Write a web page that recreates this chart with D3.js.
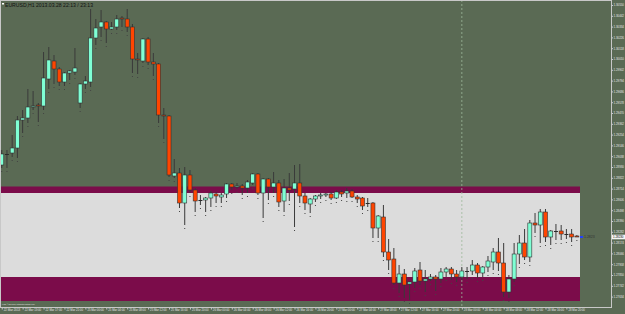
<!DOCTYPE html>
<meta charset="utf-8">
<style>
body { margin: 0; background: #5a6a54; }
svg { display: block; font-family: 'Liberation Sans', sans-serif; }
.axis path { stroke: #c8c8c8; }
.axis line { stroke: #c8c8c8; }
.axis text { fill: #e6e6e6; font-size: 3px; }
</style>
<body>
<script src="https://d3js.org/d3.v7.min.js"></script>
<script>

// EURUSD H1 candles, bar 0 = 22 Mar 09:00 ... bar 110 = 28 Mar 22:00
var opens = [
  1.2895, 1.2906, 1.2907, 1.2912, 1.2940, 1.2942, 1.2953, 1.2955, 1.2954, 1.2981,
  1.2999, 1.2991, 1.2978, 1.2987, 1.2988, 1.2957, 1.2976, 1.2978, 1.3022, 1.3033,
  1.3038, 1.3031, 1.3033, 1.3042, 1.3041, 1.3033, 1.3001, 1.2999, 1.3021, 1.2998,
  1.2996, 1.2945, 1.2944, 1.2884, 1.2887, 1.2857, 1.2885, 1.2870, 1.2860, 1.2860,
  1.2862, 1.2866, 1.2863, 1.2866, 1.2876, 1.2873, 1.2874, 1.2872, 1.2877, 1.2886,
  1.2867, 1.2881, 1.2873, 1.2877, 1.2859, 1.2872, 1.2871, 1.2877, 1.2864, 1.2856,
  1.2861, 1.2864, 1.2865, 1.2866, 1.2862, 1.2868, 1.2867, 1.2869, 1.2863, 1.2862,
  1.2857, 1.2857, 1.2832, 1.2843, 1.2808, 1.2801, 1.2777, 1.2786, 1.2776, 1.2778,
  1.2790, 1.2779, 1.2781, 1.2783, 1.2781, 1.2788, 1.2791, 1.2786, 1.2783, 1.2789,
  1.2789, 1.2795, 1.2787, 1.2793, 1.2798, 1.2808, 1.2797, 1.2768, 1.2781, 1.2806,
  1.2817, 1.2803, 1.2837, 1.2835, 1.2848, 1.2823, 1.2829, 1.2829, 1.2826, 1.2826,
  1.2824
];
var highs = [
  1.2910, 1.2910, 1.2925, 1.2944, 1.2950, 1.2971, 1.2969, 1.2957, 1.3008, 1.3013,
  1.3005, 1.2993, 1.2988, 1.2990, 1.3012, 1.2977, 1.2984, 1.3051, 1.3041, 1.3050,
  1.3039, 1.3038, 1.3045, 1.3044, 1.3051, 1.3036, 1.3007, 1.3022, 1.3023, 1.3007,
  1.2997, 1.2952, 1.2945, 1.2901, 1.2892, 1.2893, 1.2890, 1.2872, 1.2865, 1.2863,
  1.2869, 1.2868, 1.2867, 1.2877, 1.2877, 1.2877, 1.2876, 1.2880, 1.2887, 1.2887,
  1.2882, 1.2882, 1.2888, 1.2880, 1.2881, 1.2887, 1.2895, 1.2896, 1.2867, 1.2862,
  1.2865, 1.2867, 1.2867, 1.2868, 1.2870, 1.2870, 1.2872, 1.2871, 1.2865, 1.2863,
  1.2862, 1.2858, 1.2845, 1.2855, 1.2821, 1.2812, 1.2795, 1.2791, 1.2779, 1.2792,
  1.2798, 1.2790, 1.2786, 1.2785, 1.2792, 1.2793, 1.2793, 1.2790, 1.2793, 1.2793,
  1.2800, 1.2797, 1.2794, 1.2804, 1.2812, 1.2822, 1.2817, 1.2785, 1.2817, 1.2825,
  1.2831, 1.2840, 1.2847, 1.2851, 1.2851, 1.2830, 1.2836, 1.2835, 1.2831, 1.2831,
  1.2825
];
var lows = [
  1.2892, 1.2892, 1.2903, 1.2902, 1.2927, 1.2937, 1.2950, 1.2938, 1.2950, 1.2971,
  1.2976, 1.2974, 1.2974, 1.2980, 1.2985, 1.2952, 1.2971, 1.2973, 1.3015, 1.3023,
  1.3017, 1.3030, 1.3030, 1.3033, 1.3028, 1.2987, 1.2986, 1.2997, 1.2995, 1.2984,
  1.2937, 1.2921, 1.2883, 1.2882, 1.2852, 1.2835, 1.2867, 1.2848, 1.2855, 1.2848,
  1.2853, 1.2857, 1.2857, 1.2862, 1.2870, 1.2871, 1.2865, 1.2867, 1.2875, 1.2865,
  1.2842, 1.2860, 1.2867, 1.2853, 1.2848, 1.2859, 1.2833, 1.2857, 1.2850, 1.2847,
  1.2858, 1.2861, 1.2863, 1.2860, 1.2861, 1.2863, 1.2862, 1.2862, 1.2857, 1.2850,
  1.2853, 1.2822, 1.2822, 1.2803, 1.2790, 1.2775, 1.2767, 1.2762, 1.2760, 1.2772,
  1.2775, 1.2768, 1.2779, 1.2769, 1.2777, 1.2783, 1.2780, 1.2778, 1.2780, 1.2781,
  1.2785, 1.2782, 1.2783, 1.2788, 1.2790, 1.2789, 1.2763, 1.2762, 1.2778, 1.2796,
  1.2800, 1.2798, 1.2827, 1.2817, 1.2818, 1.2815, 1.2820, 1.2820, 1.2821, 1.2818,
  1.2823
];
var closes = [
  1.2906, 1.2906, 1.2912, 1.2940, 1.2942, 1.2953, 1.2954, 1.2954, 1.2982, 1.3000,
  1.2991, 1.2978, 1.2987, 1.2989, 1.2992, 1.2976, 1.2979, 1.3022, 1.3032, 1.3038,
  1.3031, 1.3033, 1.3041, 1.3041, 1.3033, 1.3001, 1.3000, 1.3021, 1.2998, 1.2996,
  1.2945, 1.2944, 1.2885, 1.2887, 1.2857, 1.2885, 1.2870, 1.2859, 1.2860, 1.2862,
  1.2867, 1.2864, 1.2865, 1.2876, 1.2873, 1.2874, 1.2872, 1.2878, 1.2886, 1.2867,
  1.2881, 1.2873, 1.2877, 1.2858, 1.2872, 1.2870, 1.2877, 1.2864, 1.2857, 1.2861,
  1.2864, 1.2865, 1.2866, 1.2862, 1.2868, 1.2866, 1.2869, 1.2863, 1.2861, 1.2854,
  1.2857, 1.2832, 1.2844, 1.2808, 1.2800, 1.2777, 1.2786, 1.2775, 1.2778, 1.2789,
  1.2779, 1.2781, 1.2783, 1.2781, 1.2788, 1.2791, 1.2786, 1.2783, 1.2789, 1.2789,
  1.2795, 1.2787, 1.2793, 1.2799, 1.2808, 1.2797, 1.2768, 1.2781, 1.2806, 1.2817,
  1.2803, 1.2837, 1.2835, 1.2848, 1.2823, 1.2829, 1.2829, 1.2826, 1.2826, 1.2823,
  1.2823
];

// price scale labels
var priceTicks = [
  1.30550, 1.30442, 1.30334, 1.30226, 1.30118, 1.30010, 1.29902, 1.29794, 1.29686, 1.29578,
  1.29470, 1.29362, 1.29254, 1.29146, 1.29038, 1.28930, 1.28822, 1.28714, 1.28606, 1.28498,
  1.28390, 1.28282, 1.28174, 1.28066, 1.27958, 1.27850, 1.27742, 1.27634
];

// time scale labels (every 4th bar)
var timeBars = [0, 4, 8, 12, 16, 20, 24, 28, 32, 36, 40, 44, 48, 52, 56, 60, 64, 68, 72, 76, 80, 84, 88, 92, 96, 100, 104, 108];
var timeLabels = [
  "22 Mar 2013", "22 Mar 13:00", "22 Mar 17:00", "22 Mar 21:00", "25 Mar 00:00", "25 Mar 04:00",
  "25 Mar 08:00", "25 Mar 12:00", "25 Mar 16:00", "25 Mar 20:00", "26 Mar 00:00", "26 Mar 04:00",
  "26 Mar 08:00", "26 Mar 12:00", "26 Mar 16:00", "26 Mar 20:00", "27 Mar 00:00", "27 Mar 04:00",
  "27 Mar 08:00", "27 Mar 12:00", "27 Mar 16:00", "27 Mar 20:00", "28 Mar 00:00", "28 Mar 04:00",
  "28 Mar 08:00", "28 Mar 12:00", "28 Mar 16:00", "28 Mar 20:00"
];

// the zone rectangles (outer band and inner box), price levels
var zoneOuter = [1.28735, 1.27590];
var zoneInner = [1.28670, 1.27830];
var separatorBar = 88;
var bidPrice = 1.2823;

var W = 625, H = 314;
var plotW = 611, plotH = 307;

var x = d3.scaleLinear().domain([-0.33, 110.6]).range([0, 580]);
var y = d3.scaleLinear().domain([1.3060, 1.2753]).range([0, plotH]);

var svg = d3.select("body").append("svg")
    .attr("width", W)
    .attr("height", H);

svg.append("clipPath").attr("id", "plot")
  .append("rect").attr("width", plotW).attr("height", plotH);

var plot = svg.append("g").attr("clip-path", "url(#plot)");

// zones
plot.append("rect")
    .attr("x", x(-0.33)).attr("width", x(110.6) - x(-0.33))
    .attr("y", y(zoneOuter[0])).attr("height", y(zoneOuter[1]) - y(zoneOuter[0]))
    .attr("fill", "#7b0c4a");
plot.append("rect")
    .attr("x", x(-0.33)).attr("width", x(110.6) - x(-0.33))
    .attr("y", y(zoneInner[0])).attr("height", y(zoneInner[1]) - y(zoneInner[0]))
    .attr("fill", "#dcdcdc");

// day separator
plot.append("line")
    .attr("x1", x(separatorBar)).attr("x2", x(separatorBar))
    .attr("y1", 0).attr("y2", plotH)
    .attr("stroke", "#9db89a").attr("stroke-width", 0.8)
    .attr("stroke-dasharray", "2,2");

var bars = d3.range(opens.length);

// small dots below each bar
plot.selectAll(".dot").data(bars).enter().append("rect")
    .attr("x", function(i) { return x(i) - 0.5; })
    .attr("y", function(i) { return y(lows[i]) + 3; })
    .attr("width", 1).attr("height", 1)
    .attr("fill", "#444");

// wicks
plot.selectAll(".wick").data(bars).enter().append("line")
    .attr("x1", function(i) { return x(i); })
    .attr("x2", function(i) { return x(i); })
    .attr("y1", function(i) { return y(highs[i]); })
    .attr("y2", function(i) { return y(lows[i]); })
    .attr("stroke", "#3a3a3a").attr("stroke-width", 1);

// bodies
plot.selectAll(".body").data(bars).enter().append("rect")
    .attr("x", function(i) { return x(i) - 2; })
    .attr("width", 4)
    .attr("y", function(i) { return y(Math.max(opens[i], closes[i])); })
    .attr("height", function(i) { return Math.max(1, Math.abs(y(opens[i]) - y(closes[i]))); })
    .attr("fill", function(i) {
      if (opens[i] === closes[i]) return "#2a2a2a";
      return closes[i] > opens[i] ? "#7fffd4" : "#ff4500";
    })
    .attr("stroke", "#333")
    .attr("stroke-width", function(i) { return opens[i] === closes[i] ? 0 : 0.6; });

// bid marker right of last bar
plot.append("rect")
    .attr("x", 580).attr("y", y(bidPrice) - 1)
    .attr("width", 3).attr("height", 2)
    .attr("fill", "#2040ff");
plot.append("text")
    .attr("x", 584).attr("y", y(bidPrice) + 1.2)
    .attr("font-size", "3.5px").attr("fill", "#333")
    .text("1.2823");

// frame
svg.append("rect")
    .attr("x", 0.5).attr("y", 0.5)
    .attr("width", plotW).attr("height", plotH)
    .attr("fill", "none").attr("stroke", "#c8c8c8").attr("stroke-width", 1);

// price axis
var yAxis = svg.append("g")
    .attr("class", "axis")
    .attr("transform", "translate(" + (plotW + 0.5) + ",0)")
    .call(d3.axisRight(y).tickValues(priceTicks).tickFormat(d3.format(".5f")).tickSize(1.5).tickPadding(0.5));
yAxis.select(".domain").remove();
yAxis.selectAll("text").attr("textLength", 10.5).attr("lengthAdjust", "spacingAndGlyphs");

// current price box
svg.append("rect")
    .attr("x", plotW + 1).attr("y", y(bidPrice) - 2.3)
    .attr("width", 13).attr("height", 4.6)
    .attr("fill", "#f4f4f4");
svg.append("text")
    .attr("x", plotW + 2).attr("y", y(bidPrice) + 1.1)
    .attr("font-size", "3px").attr("fill", "#000")
    .attr("textLength", 10.5).attr("lengthAdjust", "spacingAndGlyphs")
    .text(d3.format(".5f")(bidPrice));

// time axis
var xAxis = svg.append("g")
    .attr("class", "axis")
    .attr("transform", "translate(0," + (plotH + 0.5) + ")")
    .call(d3.axisBottom(x).tickValues(timeBars)
      .tickFormat(function(d, i) { return timeLabels[i]; })
      .tickSize(2).tickPadding(0));
xAxis.select(".domain").remove();
xAxis.selectAll("text")
    .attr("text-anchor", "start")
    .attr("dx", 1.5)
    .attr("dy", "0.5em")
    .attr("textLength", 16.5).attr("lengthAdjust", "spacingAndGlyphs");

// title and copyright
svg.append("rect")
    .attr("x", 2).attr("y", 3).attr("width", 2).attr("height", 1.5)
    .attr("fill", "#fff");
svg.append("text")
    .attr("x", 5).attr("y", 6.5)
    .attr("font-size", "4.5px").attr("fill", "#111")
    .attr("textLength", 88).attr("lengthAdjust", "spacingAndGlyphs")
    .text("EURUSD,H1   2013.03.28   22:13 / 23:13");
svg.append("text")
    .attr("x", 2).attr("y", 305)
    .attr("font-size", "2.5px").attr("fill", "#e6e6e6")
    .attr("textLength", 33).attr("lengthAdjust", "spacingAndGlyphs")
    .text("FXDD, © 2001-2013, MetaQuotes Software Corp.");

</script>
</body>
